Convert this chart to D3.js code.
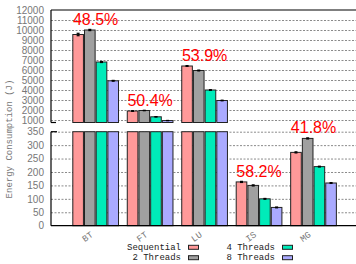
<!DOCTYPE html>
<html><head><meta charset="utf-8">
<script src="https://cdn.jsdelivr.net/npm/d3@7"></script>
<style>body{margin:0;background:#fff}svg{display:block}</style>
</head><body>
<svg id="c" width="356" height="264"></svg>
<script>
const categories = ["BT","FT","LU","IS","MG"];
const seriesNames = ["Sequential","2 Threads","4 Threads","8 Threads"];
const sequential = [9550, 1900, 6400, 163, 273];
const threads2   = [10000, 1950, 5950, 150, 325];
const threads4   = [6800, 1320, 4000, 100, 220];
const threads8   = [4920, 945, 2950, 68, 159];
const errSeq = [120, 30, 40, 2, 2];
const err2   = [60, 20, 40, 2, 2];
const err4   = [50, 20, 30, 1.5, 1.5];
const err8   = [40, 10, 30, 1.5, 1.5];
const savings = ["48.5%","50.4%","53.9%","58.2%","41.8%"];
const upperTicks = [1000,2000,3000,4000,5000,6000,7000,8000,9000,10000,11000,12000];
const lowerTicks = [0,50,100,150,200,250,300,350];
const colors = ["#ff9999","#a0a0a0","#00ebb9","#aaaaff"];

const series = [sequential, threads2, threads4, threads8];
const errs = [errSeq, err2, err4, err8];

const svg = d3.select("#c");
const x = d3.scaleLinear().domain([-0.82, 4.78]).range([51, 356]);
const yUp = d3.scaleLinear().domain([750, 12000]).range([122.5, 10]);
const yLo = d3.scaleLinear().domain([0, 350]).range([225.7, 131.7]);
const step = 0.2147, bw = 0.195;
const W = 305;

function grid(scale, ticks){
  const g = svg.append("g").attr("transform","translate(51,0)")
    .call(d3.axisLeft(scale).tickValues(ticks).tickSize(-W).tickFormat(""));
  g.select(".domain").remove();
  g.selectAll("line").attr("stroke","#8a8a8a").attr("stroke-dasharray","2,1.5").attr("stroke-width",1);
}
function labels(scale, ticks){
  const g = svg.append("g").attr("transform","translate(51,0)")
    .call(d3.axisLeft(scale).tickValues(ticks).tickSize(0).tickPadding(7).tickFormat(d3.format("d")));
  g.select(".domain").remove();
  g.selectAll("text").attr("fill","#777").attr("font-family","Liberation Sans, Arial, sans-serif").attr("font-size","10px");
}
grid(yUp, upperTicks.filter(t=>t<12000));
grid(yLo, lowerTicks.filter(t=>t>0));
labels(yUp, upperTicks);
labels(yLo, lowerTicks);

// bars
function drawPanel(y, lo, hi){
  series.forEach((vals, j) => {
    vals.forEach((v, i) => {
      if (v <= lo) return;
      const cx = i + (j - 1.5) * step;
      const top = y(Math.min(v, hi));
      svg.append("rect")
        .attr("x", x(cx - bw/2)).attr("width", x(cx + bw/2) - x(cx - bw/2))
        .attr("y", top).attr("height", y(lo) - top)
        .attr("fill", colors[j]).attr("stroke", "#222").attr("stroke-width", 1);
      if (v <= hi) {
        const e = errs[j][i];
        const px = x(cx);
        svg.append("line").attr("x1",px).attr("x2",px).attr("y1",y(v-e)).attr("y2",y(v+e)).attr("stroke","#000").attr("stroke-width",1);
        [v-e, v+e].forEach(ev => svg.append("line").attr("x1",px-1.5).attr("x2",px+1.5).attr("y1",y(ev)).attr("y2",y(ev)).attr("stroke","#000").attr("stroke-width",1.2));
      }
    });
  });
}
drawPanel(yUp, 750, 12000);
drawPanel(yLo, 0, 350);

// axes frame
const ax = svg.append("g").attr("stroke","#000").attr("stroke-width",1.2).attr("fill","none");
ax.append("line").attr("x1",51).attr("x2",356).attr("y1",yUp(12000)).attr("y2",yUp(12000));
ax.append("line").attr("x1",51).attr("x2",51).attr("y1",yUp(12000)).attr("y2",yUp(750));
ax.append("line").attr("x1",51).attr("x2",56).attr("y1",yUp(750)).attr("y2",yUp(750));
ax.append("line").attr("x1",51).attr("x2",51).attr("y1",yLo(350)).attr("y2",yLo(0));
ax.append("line").attr("x1",51).attr("x2",57).attr("y1",yLo(350)).attr("y2",yLo(350));
ax.append("line").attr("x1",51).attr("x2",356).attr("y1",yLo(0)).attr("y2",yLo(0));

// savings labels
categories.forEach((c, i) => {
  const m = d3.max(series, s => s[i]);
  const yy = m > 350 ? yUp(m) : yLo(m);
  svg.append("text").attr("x", x(i)).attr("y", yy - 5)
    .attr("text-anchor","middle").attr("fill","#ff0000")
    .attr("font-family","Liberation Sans, Arial, sans-serif").attr("font-size","16px")
    .text(savings[i]);
});

// category labels
categories.forEach((c, i) => {
  svg.append("text").attr("transform", `translate(${x(i)-2},236) rotate(-35)`)
    .attr("text-anchor","end").attr("fill","#777")
    .attr("font-family","Liberation Mono, Courier New, monospace").attr("font-size","9px")
    .text(c);
});

// y title
svg.append("text").attr("transform","translate(12,139) rotate(-90)")
  .attr("text-anchor","middle").attr("fill","#777")
  .attr("font-family","Liberation Mono, Courier New, monospace").attr("font-size","9px")
  .text("Energy Consumption (J)");

// legend
const legPos = [[181,249.8],[181,260.2],[275,249.8],[275,260.2]];
seriesNames.forEach((n, j) => {
  const [tx, ty] = legPos[j];
  svg.append("text").attr("x", tx).attr("y", ty).attr("text-anchor","end")
    .attr("fill","#222").attr("font-family","Liberation Mono, Courier New, monospace").attr("font-size","9px")
    .text(n);
  svg.append("rect").attr("x", tx + 7.5).attr("y", ty - 4.5).attr("width", 10).attr("height", 4)
    .attr("fill", colors[j]).attr("stroke","#222").attr("stroke-width",1);
});
</script>
</body></html>
